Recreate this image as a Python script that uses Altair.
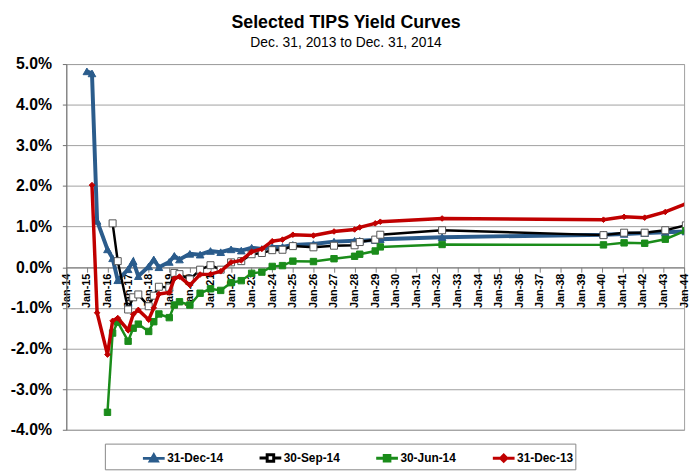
import altair as alt
import pandas as pd

# TIPS maturities (month of maturity)
maturities = [
    "2015-01-01", "2015-04-01", "2015-07-01",
    "2016-01-01", "2016-04-01", "2016-07-01",
    "2017-01-01", "2017-04-01", "2017-07-01",
    "2018-01-01", "2018-04-01", "2018-07-01",
    "2019-01-01", "2019-04-01", "2019-07-01",
    "2020-01-01", "2020-07-01",
    "2021-01-01", "2021-07-01",
    "2022-01-01", "2022-07-01",
    "2023-01-01", "2023-07-01",
    "2024-01-01", "2024-07-01",
    "2025-01-01", "2026-01-01", "2027-01-01", "2028-01-01", "2028-04-01",
    "2029-01-01", "2029-04-01", "2032-04-01",
    "2040-02-01", "2041-02-01", "2042-02-01", "2043-02-01", "2044-02-01",
]

dec14 = [4.82, 4.77, 1.14, 0.44, 0.22, -0.32, -0.05, 0.15, -0.22, 0.02, 0.19, 0.00,
         0.13, 0.28, 0.19, 0.33, 0.31, 0.40, 0.37, 0.44, 0.41, 0.48, 0.45, 0.50, 0.50,
         0.55, 0.57, 0.63, 0.65, 0.65, 0.67, 0.69, 0.74, 0.80, 0.82, 0.84, 0.86, 0.88]
sep14 = [None, None, None, None, 1.08, 0.15, -1.04, -0.74, -0.67, -0.96, -0.70, -0.48,
         -0.50, -0.14, -0.17, -0.30, -0.06, 0.05, -0.06, 0.12, 0.15, 0.32, 0.35, 0.42, 0.43,
         0.52, 0.49, 0.53, 0.54, 0.62, 0.68, 0.80, 0.91, 0.79, 0.85, 0.85, 0.91, 1.03]
jun14 = [None, None, None, -3.57, -1.62, -1.35, -1.82, -1.50, -1.40, -1.58, -1.34, -1.15,
         -1.24, -0.93, -0.85, -0.93, -0.64, -0.53, -0.57, -0.38, -0.33, -0.15, -0.12, 0.02, 0.04,
         0.15, 0.14, 0.21, 0.27, 0.32, 0.40, 0.50, 0.56, 0.55, 0.60, 0.59, 0.69, 0.90]
dec13 = [None, 2.02, -1.12, -2.15, -1.32, -1.25, -1.55, -1.16, -1.05, -1.29, -1.00, -0.66,
         -0.62, -0.28, -0.23, -0.44, -0.18, -0.17, -0.10, 0.12, 0.17, 0.38, 0.45, 0.64, 0.68,
         0.80, 0.78, 0.88, 0.93, 0.98, 1.08, 1.12, 1.20, 1.17, 1.24, 1.22, 1.36, 1.56]

series_names = ["31-Dec-14", "30-Sep-14", "30-Jun-14", "31-Dec-13"]
series_values = [dec14, sep14, jun14, dec13]

y_ticks = [-4, -3, -2, -1, 0, 1, 2, 3, 4, 5]
x_tick_years = list(range(2014, 2045))

line_colors = ["#2B5C8C", "#000000", "#1A8C1A", "#C00000"]
line_widths = [4, 2.5, 2.5, 3.5]
marker_shapes = ["triangle-up", "square", "square", "diamond"]
marker_sizes = [60, 50, 42, 32]
marker_fills = ["#2B5C8C", "#FFFFFF", "#1A8C1A", "#C00000"]
marker_strokes = ["#2B5C8C", "#555555", "#1A8C1A", "#C00000"]
marker_stroke_widths = [1, 1, 1, 1]

legend_paths = [
    "M-1,0H1M0,-0.32L0.32,0.24H-0.32Z",
    "M-1,0H-0.3M0.3,0H1M-0.3,-0.3H0.3V0.3H-0.3Z",
    "M-1,0H1M-0.26,-0.26H0.26V0.26H-0.26Z",
    "M-1,0H1M0,-0.28L0.28,0L0,0.28L-0.28,0Z",
]
legend_fills = ["#2B5C8C", "#FFFFFF", "#1A8C1A", "#C00000"]
legend_strokes = ["#2B5C8C", "#000000", "#1A8C1A", "#C00000"]

rows = []
for name, vals in zip(series_names, series_values):
    for d, v in zip(maturities, vals):
        if v is not None:
            rows.append({"series": name, "date": d, "yld": v})
df = pd.DataFrame(rows)

W, H = 625, 370
zero_offset = -H * 4 / 9

x_enc = alt.X(
    "date:T",
    scale=alt.Scale(
        type="utc",
        domain=[alt.DateTime(year=2014, month=1, date=1, utc=True),
                alt.DateTime(year=2044, month=1, date=1, utc=True)],
    ),
    axis=alt.Axis(
        values=[alt.DateTime(year=y, month=1, date=1, utc=True) for y in x_tick_years],
        labelExpr="utcFormat(datum.value, '%b-%y')", labelAngle=-90, offset=zero_offset,
        grid=False, tickSize=5, labelPadding=1, labelFontSize=11,
        labelFontWeight="bold", labelColor="#000000", domainColor="#808080",
        tickColor="#808080", labelOverlap=False, labelBound=False, labelFlush=False,
        title=None,
    ),
    title=None,
)
y_enc = alt.Y(
    "yld:Q",
    scale=alt.Scale(domain=[-4, 5], nice=False, zero=False),
    axis=alt.Axis(
        values=y_ticks,
        labelExpr="(datum.value < 0 ? '-' : '') + format(abs(datum.value), '.1f') + '%'",
        grid=True, gridColor="#A0A0A0", gridWidth=1, tickSize=4, labelPadding=11,
        labelFontSize=16, labelFontWeight="bold", labelColor="#000000",
        domainColor="#707070", tickColor="#707070", title=None,
    ),
    title=None,
)

layers = []
for i, name in enumerate(series_names):
    base = alt.Chart(df).transform_filter(alt.datum.series == name)
    layers.append(
        base.mark_line(color=line_colors[i], strokeWidth=line_widths[i], clip=True)
        .encode(x=x_enc, y=y_enc)
    )
    layers.append(
        base.mark_point(
            shape=marker_shapes[i], size=marker_sizes[i], filled=True,
            fill=marker_fills[i], stroke=marker_strokes[i],
            strokeWidth=marker_stroke_widths[i], opacity=1, clip=True,
        ).encode(x=x_enc, y=y_enc)
    )

legend = alt.Legend(
    title=None,
    orient="none", legendX=39, legendY=384, direction="horizontal", columns=4,
    symbolSize=484, symbolStrokeWidth=3, symbolOffset=35,
    labelFontSize=12, labelFontWeight="bold",
    labelColor="#000000", labelOffset=1, columnPadding=-3, padding=2,
    strokeColor="#888888", fillColor="#FFFFFF",
)
legend_layer = (
    alt.Chart(df)
    .transform_filter("false")
    .mark_point(filled=True, opacity=1)
    .encode(
        x=x_enc, y=y_enc,
        shape=alt.Shape("series:N", scale=alt.Scale(domain=series_names, range=legend_paths), legend=legend),
        fill=alt.Fill("series:N", scale=alt.Scale(domain=series_names, range=legend_fills), legend=legend),
        stroke=alt.Stroke("series:N", scale=alt.Scale(domain=series_names, range=legend_strokes), legend=legend),
    )
)
layers.append(legend_layer)

chart = (
    alt.layer(*layers)
    .properties(
        width=W, height=H,
        autosize=alt.AutoSizeParams(type="none"),
        padding={"left": 59, "top": 54, "right": 8, "bottom": 40},
        title=alt.Title(
            "Selected TIPS Yield Curves",
            subtitle="Dec. 31, 2013 to Dec. 31, 2014",
            fontSize=18, fontWeight="bold", subtitleFontSize=14,
            anchor="middle", dx=-29.5, offset=6, subtitlePadding=4,
            color="#000000", subtitleColor="#000000",
        ),
    )
    .configure(font="Liberation Sans", background="#FFFFFF")
    .configure_view(stroke="#A0A0A0", strokeWidth=1)
)

chart.save("out.html", embed_options={"renderer": "svg", "actions": False})
